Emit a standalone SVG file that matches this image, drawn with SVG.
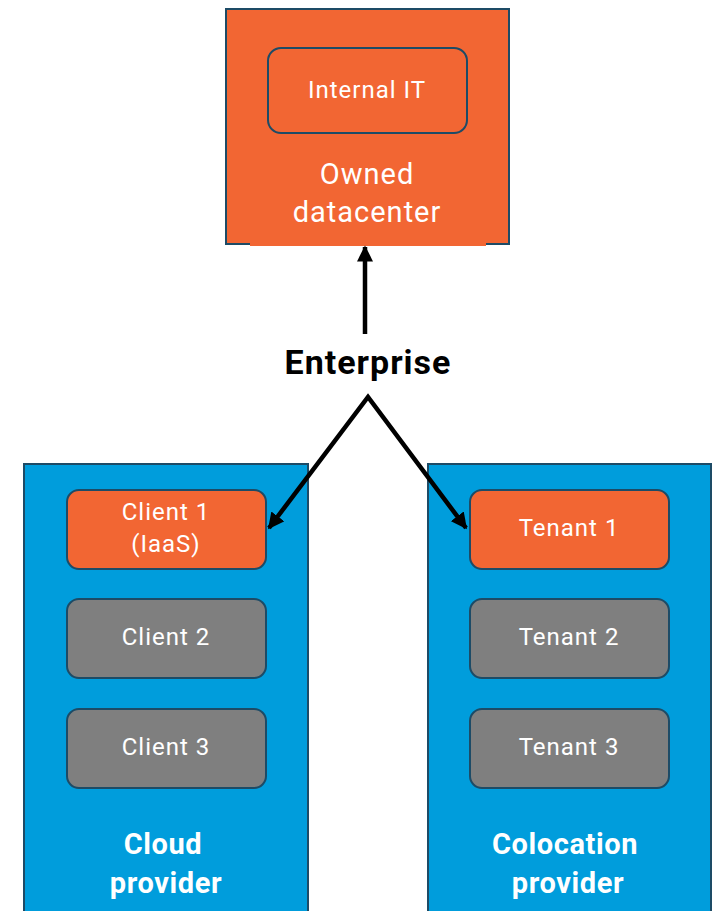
<svg xmlns="http://www.w3.org/2000/svg" width="715" height="911" viewBox="0 0 715 911">
  <style>
    .frame { stroke: #1d4b66; stroke-width: 2; }
    .orange { fill: #f26633; }
    .blue { fill: #009ddc; }
    .gray { fill: #7f7f7f; }
    .item { stroke: #1d4b66; stroke-width: 2; }
    text { font-family: Roboto, "Liberation Sans", sans-serif; fill: #ffffff; text-anchor: middle; }
    .lbl { font-size: 24px; letter-spacing: 1px; }
    .big { font-size: 29px; letter-spacing: 1px; }
    .bold { font-weight: bold; letter-spacing: 0.6px; }
    .dark { fill: #000000; }
    .conn { stroke: #000000; stroke-width: 4.5; fill: none; }
  </style>
  <defs>
    <marker id="head" viewBox="0 0 10 10" refX="9" refY="5" markerWidth="3.6" markerHeight="3.6" orient="auto-start-reverse" markerUnits="strokeWidth">
      <path d="M0,0 L10,5 L0,10 z" fill="#000000"/>
    </marker>
  </defs>

  <g id="owned-datacenter">
    <rect class="orange frame" x="226" y="9" width="283" height="235"/>
    <rect class="orange" x="250" y="238" width="236" height="8"/>
    <text class="big" x="367" y="184">Owned</text>
    <text class="big" x="367" y="222">datacenter</text>
  </g>
  <g id="internal-it">
    <rect class="orange item" x="268" y="48" width="199" height="85" rx="13"/>
    <text class="lbl" x="367" y="98">Internal IT</text>
  </g>

  <g id="enterprise">
    <text class="dark bold" x="368" y="374" style="font-size:34px;letter-spacing:1px">Enterprise</text>
  </g>

  <g id="cloud-provider">
    <rect class="blue frame" x="24" y="464" width="284" height="460"/>
    <text class="big bold" x="163" y="854">Cloud</text>
    <text class="big bold" x="166" y="893">provider</text>
  </g>
  <g id="client-1">
    <rect class="orange item" x="67" y="490" width="199" height="79" rx="12"/>
    <text class="lbl" x="166" y="520">Client 1</text>
    <text class="lbl" x="166" y="552">(IaaS)</text>
  </g>
  <g id="client-2">
    <rect class="gray item" x="67" y="599" width="199" height="79" rx="12"/>
    <text class="lbl" x="166" y="645">Client 2</text>
  </g>
  <g id="client-3">
    <rect class="gray item" x="67" y="709" width="199" height="79" rx="12"/>
    <text class="lbl" x="166" y="755">Client 3</text>
  </g>

  <g id="colocation-provider">
    <rect class="blue frame" x="428" y="464" width="283" height="460"/>
    <text class="big bold" x="565" y="854">Colocation</text>
    <text class="big bold" x="568" y="893">provider</text>
  </g>
  <g id="tenant-1">
    <rect class="orange item" x="470" y="490" width="199" height="79" rx="12"/>
    <text class="lbl" x="569" y="536">Tenant 1</text>
  </g>
  <g id="tenant-2">
    <rect class="gray item" x="470" y="599" width="199" height="79" rx="12"/>
    <text class="lbl" x="569" y="645">Tenant 2</text>
  </g>
  <g id="tenant-3">
    <rect class="gray item" x="470" y="709" width="199" height="79" rx="12"/>
    <text class="lbl" x="569" y="755">Tenant 3</text>
  </g>

  <g id="connectors">
    <line class="conn" x1="365" y1="334" x2="365" y2="247" marker-end="url(#head)"/>
    <polyline class="conn" points="269,528 368,397 466,528" marker-start="url(#head)" marker-end="url(#head)"/>
  </g>
</svg>
